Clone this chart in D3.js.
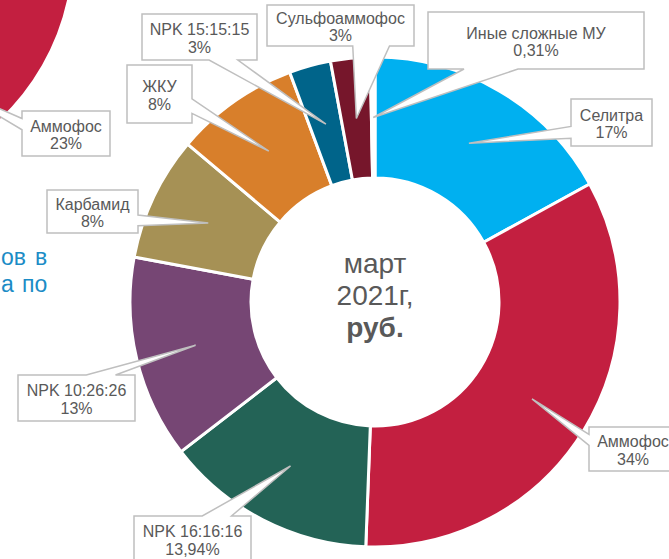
<!DOCTYPE html>
<html>
<head>
<meta charset="utf-8">
<script src="https://cdn.jsdelivr.net/npm/d3@7"></script>
<style>
  body { margin: 0; background: #fff; }
  svg { display: block; font-family: "Liberation Sans", Arial, sans-serif; }
</style>
</head>
<body>
<div id="chart"></div>
<script>
// main donut: март 2021
var categories = ["Селитра", "Аммофос", "NPK 16:16:16", "NPK 10:26:26", "Карбамид", "ЖКУ", "NPK 15:15:15", "Сульфоаммофос", "Иные сложные МУ"];
var shares = [17, 33.6, 13.94, 13.4, 8.2, 8.2, 2.75, 2.6, 0.31];
var shareLabels = ["17%", "34%", "13,94%", "13%", "8%", "8%", "3%", "3%", "0,31%"];
var colors = ["#00b0f0", "#c31f40", "#236356", "#764674", "#a69155", "#d87f2b", "#00648a", "#76162b", "#ffffff"];
var centerLines = ["март", "2021г,", "руб."];

// the neighbouring (cut off) donut, only its Аммофос slice is in view
var leftCategory = "Аммофос";
var leftShare = 23;
var leftShareLabel = "23%";
var leftShareBefore = 27.7;

// the clipped text at the left edge
var sideWords = [["ов", "в"], ["а", "по"]];

var width = 669, height = 559;

// callout boxes (layout), same order as categories
var labelBoxes = [
  {x: 571, y: 99, w: 81, h: 47},
  {x: 589, y: 427, w: 88, h: 44},
  {x: 134, y: 516, w: 117, h: 46},
  {x: 18, y: 375, w: 117, h: 46},
  {x: 47, y: 190, w: 91, h: 43},
  {x: 127, y: 65, w: 65, h: 58},
  {x: 142, y: 14, w: 115, h: 46},
  {x: 267, y: 5, w: 147, h: 41},
  {x: 428, y: 12, w: 216, h: 57}
];
var leftBox = {x: 22, y: 111, w: 88, h: 45};

var svg = d3.select("#chart").append("svg")
  .attr("width", width)
  .attr("height", height);

// left donut piece
var l_cx = -160, l_cy = -50;
var l_arc = d3.arc().innerRadius(118).outerRadius(234);
var l_slice = {
  startAngle: leftShareBefore / 100 * 2 * Math.PI,
  endAngle: (leftShareBefore + leftShare) / 100 * 2 * Math.PI
};
var l_g = svg.append("g").attr("transform", "translate(" + l_cx + "," + l_cy + ")");
l_g.append("path")
  .attr("d", l_arc(l_slice))
  .attr("fill", "#c31f40")
  .attr("stroke", "#fff")
  .attr("stroke-width", 3);

// side text
sideWords.forEach(function(words, i) {
  var t = svg.append("text")
    .attr("y", 265 + i * 27)
    .attr("fill", "#1b8cc6")
    .style("font-size", "23px");
  t.append("tspan").attr("x", 1).text(words[0]);
  t.append("tspan").attr("x", i == 0 ? 35 : 22).text(words[1]);
});

// main donut
var cx = 375, cy = 302;
var rOuter = 245, rInner = 124;

var pie = d3.pie().sort(null).value(function(d) { return d; });
var arc = d3.arc().innerRadius(rInner).outerRadius(rOuter);
var slices = pie(shares);

var g = svg.append("g").attr("transform", "translate(" + cx + "," + cy + ")");

g.selectAll("path.slice")
  .data(slices)
  .enter().append("path")
  .attr("class", "slice")
  .attr("d", arc)
  .attr("fill", function(d, i) { return colors[i]; })
  .attr("stroke", "#fff")
  .attr("stroke-width", 3);

g.selectAll("text.center")
  .data(centerLines)
  .enter().append("text")
  .attr("class", "center")
  .attr("x", 0)
  .attr("y", function(d, i) { return -29 + i * 32; })
  .attr("text-anchor", "middle")
  .attr("fill", "#595959")
  .style("font-size", "28px")
  .style("font-weight", function(d, i) { return i == 2 ? "bold" : "normal"; })
  .text(function(d) { return d; });

// wedge shaped callout, like office's wedgeRectCallout
function wedgePath(b, tip) {
  var l = b.x, t = b.y, r = b.x + b.w, bt = b.y + b.h;
  var hc = l + b.w / 2, vc = t + b.h / 2;
  var dx = tip[0] - hc, dy = tip[1] - vc;
  var dq = dx * b.h / b.w;
  var pts;
  if (Math.abs(dy) > Math.abs(dq)) {
    var x1 = l + b.w * (dx > 0 ? 7 : 2) / 12, x2 = l + b.w * (dx > 0 ? 10 : 5) / 12;
    if (dy < 0) pts = [[l, t], [x1, t], tip, [x2, t], [r, t], [r, bt], [l, bt]];
    else pts = [[l, t], [r, t], [r, bt], [x2, bt], tip, [x1, bt], [l, bt]];
  } else {
    var y1 = t + b.h * (dy > 0 ? 7 : 2) / 12, y2 = t + b.h * (dy > 0 ? 10 : 5) / 12;
    if (dx < 0) pts = [[l, t], [r, t], [r, bt], [l, bt], [l, y2], tip, [l, y1]];
    else pts = [[l, t], [r, t], [r, y1], tip, [r, y2], [r, bt], [l, bt]];
  }
  return "M" + pts.map(function(p) { return p[0] + "," + p[1]; }).join("L") + "Z";
}

function drawCallout(b, tip, name, value) {
  var c = svg.append("g");
  c.append("path")
    .attr("d", wedgePath(b, tip))
    .attr("fill", "#fff")
    .attr("stroke", "#bfbfbf")
    .attr("stroke-width", 1.5)
    .attr("stroke-linejoin", "miter");
  var vc = b.y + b.h / 2;
  c.append("text")
    .attr("x", b.x + b.w / 2)
    .attr("y", vc - 2)
    .attr("text-anchor", "middle")
    .attr("fill", "#595959")
    .style("font-size", "16px")
    .text(name);
  c.append("text")
    .attr("x", b.x + b.w / 2)
    .attr("y", vc + 15.5)
    .attr("text-anchor", "middle")
    .attr("fill", "#595959")
    .style("font-size", "16px")
    .text(value);
}

slices.forEach(function(d, i) {
  var c = arc.centroid(d);
  drawCallout(labelBoxes[i], [cx + c[0], cy + c[1]], categories[i], shareLabels[i]);
});

var lc = l_arc.centroid(l_slice);
drawCallout(leftBox, [l_cx + lc[0], l_cy + lc[1]], leftCategory, leftShareLabel);
</script>
</body>
</html>
